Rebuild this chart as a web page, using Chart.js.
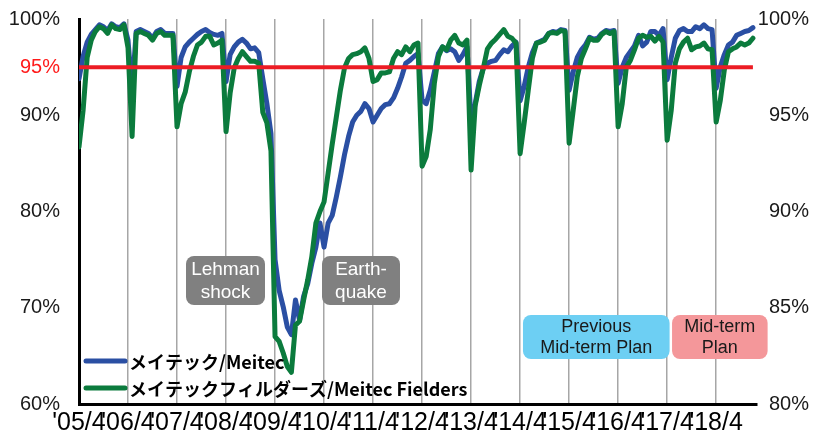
<!DOCTYPE html>
<html>
<head>
<meta charset="utf-8">
<script src="https://cdn.jsdelivr.net/npm/chart.js@4.4.1/dist/chart.umd.min.js"></script>
<style>
  html, body { margin: 0; padding: 0; background: #ffffff; }
  #wrap { position: relative; width: 819px; height: 441px; }
</style>
</head>
<body>
<div id="wrap"><canvas id="c" width="819" height="441"></canvas></div>
<script>
// Fiscal-year tick labels, one per April
const yearLabels = ["'05/4", "'06/4", "'07/4", "'08/4", "'09/4", "'10/4", "'11/4",
                    "'12/4", "'13/4", "'14/4", "'15/4", "'16/4", "'17/4", "'18/4"];

// Monthly utilization rate (%), starting April 2005
const meitec = [
  93.8, 96.1, 97.6, 98.4, 98.9, 99.4, 99.2, 98.8, 99.5, 99.2, 99.1, 99.5,
  97.8, 92.5, 98.7, 98.9, 98.7, 98.5, 98.0, 98.7, 98.9, 98.5, 98.5, 98.5,
  93.0, 96.0, 97.1, 97.6, 98.0, 98.4, 98.7, 98.9, 98.6, 98.4, 98.3, 98.5,
  93.5, 96.3, 97.1, 97.6, 97.9, 97.5, 96.9, 97.0, 96.5, 93.8, 91.2, 88.1,
  75.0, 71.8, 70.1, 68.0, 67.2, 70.8, 68.7, 71.2, 72.5, 74.6, 76.3, 78.8,
  76.3, 78.8, 79.6, 81.5, 83.6, 85.9, 87.8, 89.3, 90.0, 90.4, 91.2, 90.7,
  89.3, 90.0, 90.7, 91.1, 91.2, 91.8, 92.8, 94.0, 95.4, 95.7, 96.1, 96.4,
  91.6, 91.2, 92.6, 94.5, 96.4, 97.1, 96.7, 96.9, 96.6, 95.7, 96.3, 97.1,
  89.2, 91.2, 93.5, 94.9, 95.4, 95.6, 95.7, 96.3, 96.8, 96.6, 97.2, 97.6,
  91.5, 93.0, 95.0, 96.5, 97.5, 97.7, 97.9, 98.5, 98.7, 98.6, 98.9, 98.8,
  92.6, 94.5, 96.0, 96.8, 97.3, 98.1, 97.9, 98.0, 98.5, 98.8, 98.7, 98.8,
  93.3, 95.0, 96.0, 96.6, 97.2, 98.3, 97.2, 97.6, 98.7, 98.7, 98.3, 99.0,
  93.7, 96.0, 98.0, 98.8, 99.0, 98.7, 98.7, 99.2, 99.0, 99.4, 99.0, 98.9,
  92.8, 95.0, 96.3, 97.3, 97.6, 98.3, 98.5, 98.7, 98.8, 99.1
];

const fielders = [
  86.7, 90.5, 96.0, 97.8, 98.7, 99.2, 99.0, 98.5, 99.4, 99.0, 98.9, 99.4,
  97.0, 87.8, 98.5, 98.7, 98.5, 98.3, 97.8, 98.5, 98.7, 98.3, 98.3, 98.3,
  88.8, 91.2, 92.4, 94.5, 96.1, 97.3, 97.6, 98.2, 98.2, 97.3, 97.5, 97.8,
  88.3, 92.3, 94.9, 95.9, 96.6, 96.1, 95.6, 95.6, 95.4, 90.3, 89.2, 86.3,
  67.0, 66.5, 65.3, 63.9, 63.3, 68.2, 68.6, 70.8, 72.9, 75.3, 78.8, 80.0,
  81.0, 84.0, 87.0, 89.8, 92.6, 94.9, 95.9, 96.3, 96.4, 96.6, 97.0, 95.9,
  93.5, 93.7, 94.4, 94.4, 94.5, 95.9, 96.6, 96.3, 97.1, 96.6, 97.3, 97.5,
  84.7, 85.7, 88.5, 93.3, 96.1, 97.1, 96.8, 97.8, 98.3, 97.5, 97.3, 97.8,
  84.3, 91.0, 93.1, 94.9, 96.9, 97.5, 97.9, 98.4, 98.9, 98.2, 98.0, 97.5,
  86.0, 89.2, 92.6, 95.9, 97.5, 97.6, 97.8, 98.5, 98.6, 98.5, 98.8, 98.7,
  87.1, 90.5, 94.0, 95.9, 96.9, 98.0, 97.8, 97.8, 98.4, 98.7, 98.5, 98.7,
  88.8, 91.2, 95.0, 95.7, 96.8, 98.0, 98.3, 98.1, 98.2, 97.7, 98.2, 97.6,
  87.4, 90.5, 95.4, 96.9, 97.6, 98.0, 96.8, 97.1, 97.2, 97.5, 96.9, 96.8,
  89.3, 91.5, 94.7, 96.6, 96.9, 97.1, 97.5, 97.3, 97.5, 98.0
];

const targetRate = 95;
const leftTicks = [60, 70, 80, 90, 95, 100];
const rightTicks = [80, 85, 90, 95, 100];

const BLUE = '#2a4fa3';
const GREEN = '#0b7b3d';
const RED = '#ec1c24';

const toPoints = arr => arr.map((v, i) => ({ x: i, y: v }));
const lastMonth = Math.max(meitec.length, fielders.length) - 1;

// Inline legend in the lower-left corner of the plot
const inlineLegend = {
  id: 'inlineLegend',
  afterDatasetsDraw(chart) {
    const ctx = chart.ctx;
    const items = chart.data.datasets.filter(d => d.showInLegend);
    ctx.save();
    items.forEach((d, i) => {
      const y = 361 + i * 27;
      ctx.strokeStyle = d.borderColor;
      ctx.lineWidth = 5;
      ctx.lineCap = 'round';
      ctx.beginPath();
      ctx.moveTo(86, y);
      ctx.lineTo(125, y);
      ctx.stroke();
      ctx.fillStyle = '#000000';
      ctx.font = "bold 18px 'Noto Sans CJK JP'";
      ctx.textBaseline = 'middle';
      ctx.textAlign = 'left';
      ctx.fillText(d.label, 129, y + 1);
    });
    ctx.restore();
  }
};

// Event and plan call-out boxes
const callouts = {
  id: 'callouts',
  afterDatasetsDraw(chart) {
    const ctx = chart.ctx;
    const xs = chart.scales.x;
    const boxes = [
      { x0: 186, x1: 265, y0: 256, y1: 305, fill: '#808080', color: '#ffffff', lines: ['Lehman', 'shock'], size: 19, dy: 23 },
      { x0: 322, x1: 400, y0: 256, y1: 305, fill: '#808080', color: '#ffffff', lines: ['Earth-', 'quake'], size: 19, dy: 23 },
      { x0: xs.getPixelForValue(108.7), x1: xs.getPixelForValue(144.6), y0: 315, y1: 359, fill: '#6dcff3', color: '#1a1a1a', lines: ['Previous', 'Mid-term Plan'], size: 18, dy: 21 },
      { x0: xs.getPixelForValue(145.2), x1: xs.getPixelForValue(168.6), y0: 315, y1: 359, fill: '#f4979a', color: '#1a1a1a', lines: ['Mid-term', 'Plan'], size: 18, dy: 21 }
    ];
    ctx.save();
    boxes.forEach(b => {
      ctx.fillStyle = b.fill;
      ctx.beginPath();
      ctx.roundRect(b.x0, b.y0, b.x1 - b.x0, b.y1 - b.y0, 8);
      ctx.fill();
      ctx.fillStyle = b.color;
      ctx.font = b.size + "px 'Liberation Sans', Arial, sans-serif";
      ctx.textAlign = 'center';
      ctx.textBaseline = 'middle';
      const cx = (b.x0 + b.x1) / 2;
      const cy = (b.y0 + b.y1) / 2;
      b.lines.forEach((t, i) => {
        ctx.fillText(t, cx, cy + (i - (b.lines.length - 1) / 2) * b.dy + 1);
      });
    });
    ctx.restore();
  }
};

new Chart(document.getElementById('c'), {
  type: 'line',
  data: {
    datasets: [
      {
        label: 'メイテック/Meitec',
        showInLegend: true,
        data: toPoints(meitec),
        borderColor: BLUE,
        borderWidth: 5,
        pointRadius: 0,
        tension: 0,
        borderJoinStyle: 'round',
        borderCapStyle: 'round',
        yAxisID: 'y',
        order: 3
      },
      {
        label: 'メイテックフィルダーズ/Meitec Fielders',
        showInLegend: true,
        data: toPoints(fielders),
        borderColor: GREEN,
        borderWidth: 5,
        pointRadius: 0,
        tension: 0,
        borderJoinStyle: 'round',
        borderCapStyle: 'round',
        yAxisID: 'y',
        order: 2
      },
      {
        label: 'target',
        data: [{ x: 0, y: targetRate }, { x: lastMonth, y: targetRate }],
        borderColor: RED,
        borderWidth: 4,
        pointRadius: 0,
        yAxisID: 'y',
        order: 1
      }
    ]
  },
  options: {
    responsive: false,
    animation: false,
    devicePixelRatio: 1,
    layout: { padding: { left: 0, right: 10, top: 19, bottom: 0 } },
    plugins: { legend: { display: false }, tooltip: { enabled: false } },
    scales: {
      x: {
        type: 'linear',
        min: 0,
        max: 166,
        afterBuildTicks: s => { s.ticks = yearLabels.map((_, i) => ({ value: i * 12 })); },
        afterFit: s => { s.height = 37; s.paddingLeft = 0; s.paddingRight = 0; },
        grid: { display: true, color: '#a6a6a6', lineWidth: 1.5, drawTicks: false },
        border: { display: true, color: '#000000', width: 3 },
        ticks: {
          autoSkip: false,
          maxRotation: 0,
          padding: 4,
          color: '#000000',
          font: { family: "'Liberation Sans Narrow', 'Arial Narrow', sans-serif", size: 25 },
          callback: (v, i) => yearLabels[i]
        }
      },
      y: {
        position: 'left',
        min: 60,
        max: 100,
        afterBuildTicks: s => { s.ticks = leftTicks.map(v => ({ value: v })); },
        afterFit: s => { s.width = 79; s.paddingTop = 0; s.paddingBottom = 0; },
        grid: { display: false, drawTicks: false },
        border: { display: true, color: '#000000', width: 3 },
        ticks: {
          padding: 19,
          color: c => (c.tick.value === targetRate ? '#ff1a1a' : '#1a1a1a'),
          font: { family: "'Liberation Sans', Arial, sans-serif", size: 20 },
          callback: v => v + '%'
        }
      },
      y2: {
        position: 'right',
        min: 80,
        max: 100,
        afterBuildTicks: s => { s.ticks = rightTicks.map(v => ({ value: v })); },
        afterFit: s => { s.width = 52; s.paddingTop = 0; s.paddingBottom = 0; },
        grid: { display: false, drawTicks: false },
        border: { display: false },
        ticks: {
          crossAlign: 'far',
          padding: 0,
          color: '#1a1a1a',
          font: { family: "'Liberation Sans', Arial, sans-serif", size: 20 },
          callback: v => v + '%'
        }
      }
    }
  },
  plugins: [callouts, inlineLegend]
});
</script>
</body>
</html>
